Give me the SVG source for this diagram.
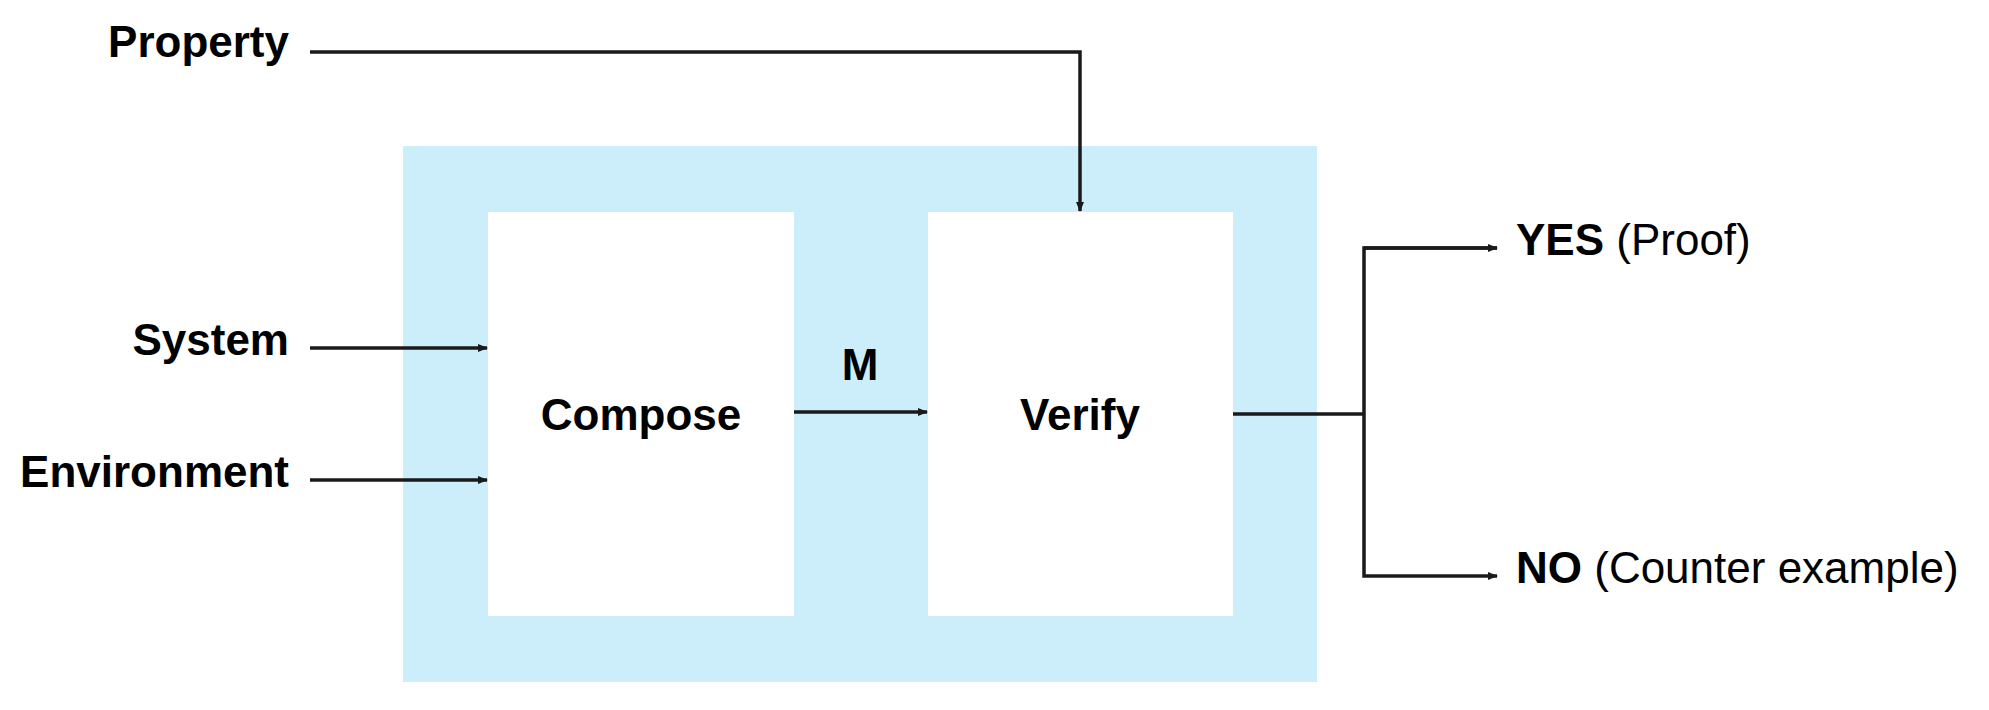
<svg xmlns="http://www.w3.org/2000/svg" width="1989" height="710" viewBox="0 0 1989 710">
<style>
.t{font-family:"Liberation Sans",Arial,sans-serif;font-size:44px;fill:#000}
.b{font-weight:bold}
.c{stroke:#1a1a1a;stroke-width:3.5;fill:none}
</style>
<defs>
<marker id="ah" markerWidth="10" markerHeight="10" refX="9" refY="5" orient="auto" markerUnits="userSpaceOnUse">
<path d="M0,1 L10,5 L0,9 Z" fill="#1a1a1a"/>
</marker>
</defs>
<rect width="1989" height="710" fill="#fff"/>
<g id="container">
<rect x="403" y="146" width="914" height="536" fill="#CCEEFB"/>
</g>
<g id="compose">
<rect x="488" y="212" width="306" height="404" fill="#fff"/>
<text class="t b" x="641" y="430" text-anchor="middle">Compose</text>
</g>
<g id="verify">
<rect x="928" y="212" width="305" height="404" fill="#fff"/>
<text class="t b" x="1080" y="430" text-anchor="middle">Verify</text>
</g>
<g id="property"><text class="t b" x="289" y="57" text-anchor="end">Property</text></g>
<g id="system"><text class="t b" x="289" y="355" text-anchor="end">System</text></g>
<g id="environment"><text class="t b" x="289" y="487" text-anchor="end">Environment</text></g>
<g id="yes"><text class="t" x="1516" y="255"><tspan class="b">YES</tspan> (Proof)</text></g>
<g id="no"><text class="t" x="1516" y="583"><tspan class="b">NO</tspan> (Counter example)</text></g>
<g id="connectors">
<path class="c" d="M310,52 H1080 V211" marker-end="url(#ah)"/>
<path class="c" d="M310,348 H487" marker-end="url(#ah)"/>
<path class="c" d="M310,480 H487" marker-end="url(#ah)"/>
<path class="c" d="M794,412 H927" marker-end="url(#ah)"/>
<text class="t b" x="860" y="380" text-anchor="middle">M</text>
<path class="c" d="M1233,414 H1364"/>
<path class="c" d="M1497,248 H1364 V576 H1497" marker-end="url(#ah)"/>
<path class="c" d="M1364,248 H1497" marker-end="url(#ah)"/>
</g>
</svg>
